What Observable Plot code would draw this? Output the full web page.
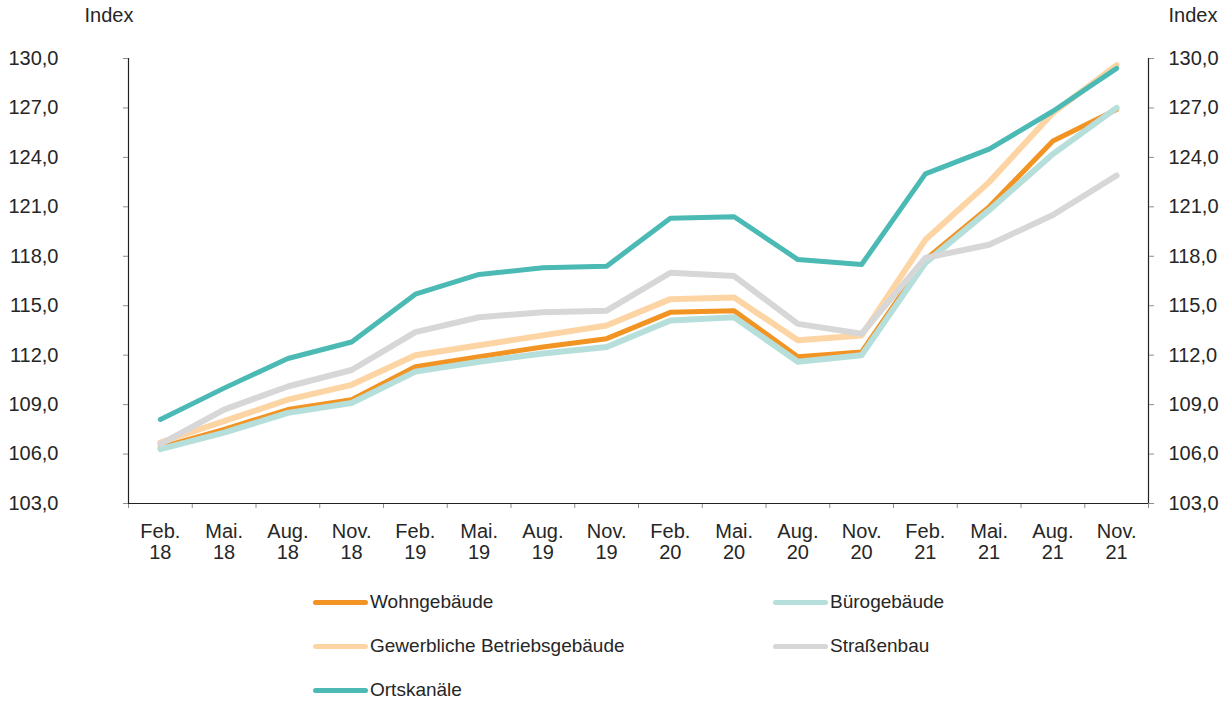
<!DOCTYPE html>
<html>
<head>
<meta charset="utf-8">
<script src="https://cdn.jsdelivr.net/npm/d3@7"></script>
<script src="https://cdn.jsdelivr.net/npm/@observablehq/plot@0.6"></script>
<style>
  body { margin: 0; background: #fff; font-family: Arial, "Liberation Sans", sans-serif; color: #262626; }
  #chart svg { display: block; }
  .legend { position: relative; width: 1225px; height: 124px; font-size: 19px; }
  .item { position: absolute; display: flex; align-items: center; height: 44px; }
  .sw { width: 55px; height: 5px; border-radius: 3px; margin-right: 2px; }
</style>
</head>
<body>
<div id="chart"></div>
<div class="legend" id="legend"></div>
<script>
const categories = ["Feb. 18","Mai. 18","Aug. 18","Nov. 18","Feb. 19","Mai. 19","Aug. 19","Nov. 19",
                    "Feb. 20","Mai. 20","Aug. 20","Nov. 20","Feb. 21","Mai. 21","Aug. 21","Nov. 21"];
const wohngebaeude = [106.4,107.5,108.7,109.3,111.3,111.9,112.5,113.0,114.6,114.7,111.9,112.2,117.8,121.0,125.0,126.9];
const buerogebaeude = [106.3,107.3,108.5,109.1,111.0,111.6,112.1,112.5,114.1,114.3,111.6,112.0,117.6,120.8,124.2,127.0];
const gewerbliche = [106.7,108.0,109.3,110.2,112.0,112.6,113.2,113.8,115.4,115.5,112.9,113.2,119.0,122.5,126.7,129.6];
const strassenbau = [106.6,108.7,110.1,111.1,113.4,114.3,114.6,114.7,117.0,116.8,113.9,113.3,117.9,118.7,120.5,122.9];
const ortskanaele = [108.1,110.0,111.8,112.8,115.7,116.9,117.3,117.4,120.3,120.4,117.8,117.5,123.0,124.5,126.8,129.4];
const yTicks = [103,106,109,112,115,118,121,124,127,130];
const axisTitle = "Index";

const series = [
  {name: "Wohngebäude", values: wohngebaeude, color: "#f29423", width: 5},
  {name: "Bürogebäude", values: buerogebaeude, color: "#b6dfdc", width: 6},
  {name: "Gewerbliche Betriebsgebäude", values: gewerbliche, color: "#fdd5a5", width: 6},
  {name: "Straßenbau", values: strassenbau, color: "#d7d7d8", width: 6},
  {name: "Ortskanäle", values: ortskanaele, color: "#4bb9b4", width: 5}
];
const legendOrder = ["Wohngebäude","Bürogebäude","Gewerbliche Betriebsgebäude","Straßenbau","Ortskanäle"];

const fmt = d => d.toFixed(1).replace(".", ",");
const half = 1020 / 16 / 2;

const lineMarks = series.map(s =>
  Plot.line(categories.map((c, i) => ({cat: c, v: s.values[i]})), {
    x: "cat", y: "v", stroke: s.color, strokeWidth: s.width,
    strokeLinejoin: "round", strokeLinecap: "round"
  })
);

const chart = Plot.plot({
  width: 1225,
  height: 580,
  marginLeft: 128,
  marginRight: 77,
  marginTop: 58,
  marginBottom: 77,
  style: {fontFamily: "Arial, 'Liberation Sans', sans-serif", fontSize: "20px", color: "#262626"},
  x: {type: "point", domain: categories, padding: 0.5, round: false},
  y: {domain: [103, 130]},
  marks: [
    Plot.ruleX(categories, {x: d => d, y1: 103, y2: 102.7, dx: -half, stroke: "#8c8c8c", strokeWidth: 1}),
    Plot.ruleX([categories[categories.length - 1]], {x: d => d, y1: 103, y2: 102.7, dx: half, stroke: "#8c8c8c", strokeWidth: 1}),
    Plot.ruleX([categories[0]], {x: d => d, y1: 103, y2: 130, dx: -half, stroke: "#222", strokeWidth: 1.2}),
    Plot.ruleX([categories[categories.length - 1]], {x: d => d, y1: 103, y2: 130, dx: half, stroke: "#222", strokeWidth: 1.2}),
    Plot.ruleY([103], {stroke: "#222", strokeWidth: 1.2}),
    Plot.axisY({anchor: "left", ticks: yTicks, tickFormat: fmt, tickSize: 5, tickPadding: 65, label: null, stroke: "#8c8c8c", fill: "#262626"}),
    Plot.axisY({anchor: "right", ticks: yTicks, tickFormat: fmt, tickSize: 5, tickPadding: 15, label: null, stroke: "#8c8c8c", fill: "#262626"}),
    Plot.axisX({anchor: "bottom", tickSize: 0, tickPadding: 20, tickFormat: d => d.replace(" ", "\n"), lineAnchor: "top", lineHeight: 1.05, label: null, fill: "#262626"}),
    Plot.text([axisTitle], {frameAnchor: "top-left", text: d => d, textAnchor: "end", lineAnchor: "middle", dx: 5, dy: -43, fill: "#262626"}),
    Plot.text([axisTitle], {frameAnchor: "top-right", text: d => d, textAnchor: "start", lineAnchor: "middle", dx: 20, dy: -43, fill: "#262626"}),
    ...lineMarks
  ]
});
document.getElementById("chart").appendChild(chart);

const legend = document.getElementById("legend");
const pos = [[313, 0], [773, 0], [313, 44], [773, 44], [313, 88]];
legendOrder.forEach((name, i) => {
  const s = series.find(t => t.name === name);
  const el = document.createElement("div");
  el.className = "item";
  el.style.left = pos[i][0] + "px";
  el.style.top = pos[i][1] + "px";
  const sw = document.createElement("div");
  sw.className = "sw";
  sw.style.background = s.color;
  const tx = document.createElement("span");
  tx.textContent = name;
  el.appendChild(sw);
  el.appendChild(tx);
  legend.appendChild(el);
});
</script>
</body>
</html>
